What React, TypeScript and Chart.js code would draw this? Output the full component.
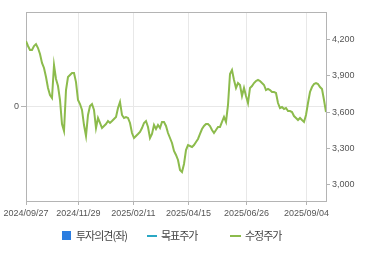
import React, { useEffect, useRef } from "react";
import { Chart, registerables } from "chart.js";

Chart.register(...registerables);

// x-axis tick labels and their positions (in data index units)
const dateLabels = ["2024/09/27", "2024/11/29", "2025/02/11", "2025/04/15", "2025/06/26", "2025/09/04"];
const dateTickIndex = [0, 26.2, 53.7, 81.2, 110.3, 140.3];

// 수정주가 (adjusted close)
const adjustedPrice = [
  4186, 4145, 4112, 4112, 4145, 4161, 4128, 4079, 4005, 3964,
  3889, 3799, 3741, 3716, 3988, 3873, 3815, 3700, 3502, 3445,
  3782, 3889, 3906, 3922, 3922, 3848, 3700, 3667, 3618, 3494,
  3404, 3577, 3651, 3667, 3618, 3469, 3552, 3511, 3469, 3486,
  3502, 3527, 3511, 3527, 3544, 3560, 3634, 3684, 3577, 3552,
  3560, 3552, 3511, 3428, 3387, 3404, 3420, 3437, 3469, 3511,
  3527, 3478, 3387, 3420, 3494, 3461, 3494, 3469, 3519, 3519,
  3486, 3428, 3387, 3346, 3280, 3247, 3206, 3124, 3107, 3173,
  3288, 3329, 3321, 3313, 3329, 3354, 3379, 3420, 3461, 3486,
  3502, 3502, 3486, 3453, 3428, 3453, 3478, 3478, 3519, 3560,
  3519, 3659, 3914, 3947, 3865, 3799, 3840, 3824, 3733, 3799,
  3733, 3675, 3799, 3815, 3840, 3857, 3865, 3857, 3840, 3824,
  3782, 3791, 3782, 3766, 3766, 3758, 3675, 3634, 3642, 3626,
  3634, 3609, 3609, 3601, 3568, 3552, 3535, 3552, 3535, 3519,
  3577, 3675, 3766, 3807, 3832, 3840, 3832, 3807, 3791, 3700,
  3601,
];

// 투자의견(좌) and 목표주가 have no visible marks in the picture
const opinion: number[] = [];
const targetPrice: number[] = [];

const priceTicks = [3000, 3300, 3600, 3900, 4200];
const priceMin = 2868;
const priceMax = 4425;
const opinionTicks = [0];

const GREEN = "#8cbb4c";
const CYAN = "#2aa8c4";
const BLUE = "#2b7de0";
const AXIS_FONT = { family: "'Liberation Sans', Arial, sans-serif", size: 9 };
const TEXT = "#555";

const fmt = (v: number) => String(v).replace(/\B(?=(\d{3})+(?!\d))/g, ",");

const frame = {
  id: "frame",
  beforeDatasetsDraw(chart: any) {
    const { ctx, chartArea: a } = chart;
    ctx.save();
    ctx.strokeStyle = "#b4b4b4";
    ctx.lineWidth = 1;
    ctx.strokeRect(Math.round(a.left) + 0.5, Math.round(a.top) + 0.5, Math.round(a.right - a.left), Math.round(a.bottom - a.top));
    ctx.restore();
  },
};

export default function App() {
  const ref = useRef<HTMLCanvasElement>(null);

  useEffect(() => {
    if (!ref.current) return;
    const chart = new Chart(ref.current, {
      type: "line",
      data: {
        datasets: [
          {
            type: "bar",
            label: "투자의견(좌)",
            data: opinion.map((v, i) => ({ x: i, y: v })),
            backgroundColor: BLUE,
            yAxisID: "yL",
          } as any,
          {
            label: "목표주가",
            data: targetPrice.map((v, i) => ({ x: i, y: v })),
            borderColor: CYAN,
            borderWidth: 2,
            pointRadius: 0,
            yAxisID: "yR",
          },
          {
            label: "수정주가",
            data: adjustedPrice.map((v, i) => ({ x: i, y: v })),
            borderColor: GREEN,
            borderWidth: 2,
            pointRadius: 0,
            tension: 0,
            yAxisID: "yR",
          },
        ],
      },
      options: {
        animation: false,
        responsive: false,
        layout: { padding: { top: 12, left: 0, right: 0, bottom: 0 } },
        plugins: { legend: { display: false }, tooltip: { enabled: false } },
        scales: {
          x: {
            type: "linear",
            offset: false,
            min: 0,
            max: adjustedPrice.length - 1,
            afterBuildTicks: (s: any) => {
              s.ticks = dateTickIndex.map((v) => ({ value: v }));
            },
            afterFit: (s: any) => {
              s.height = 54;
            },
            ticks: {
              callback: (_v: any, i: number) => dateLabels[i],
              autoSkip: false,
              maxRotation: 0,
              font: AXIS_FONT,
              color: TEXT,
              padding: 3,
            },
            grid: { offset: false, color: "#e8e8e8", tickColor: "#b4b4b4", tickLength: 4 },
            border: { display: false },
          },
          yL: {
            type: "linear",
            position: "left",
            min: -1,
            max: 1,
            afterBuildTicks: (s: any) => {
              s.ticks = opinionTicks.map((v) => ({ value: v }));
            },
            afterFit: (s: any) => {
              s.width = 26;
            },
            ticks: { callback: (v: any) => String(v), font: AXIS_FONT, color: TEXT, padding: 2 },
            grid: { color: "#e8e8e8", tickColor: "#b4b4b4", tickLength: 5 },
            border: { display: false },
          },
          yR: {
            type: "linear",
            position: "right",
            min: priceMin,
            max: priceMax,
            afterBuildTicks: (s: any) => {
              s.ticks = priceTicks.map((v) => ({ value: v }));
            },
            afterFit: (s: any) => {
              s.width = 44;
            },
            ticks: { callback: (v: any) => fmt(v), font: AXIS_FONT, color: TEXT, padding: 2 },
            grid: { drawOnChartArea: false, tickColor: "#b4b4b4", tickLength: 4 },
            border: { display: false },
          },
        },
      },
      plugins: [frame],
    });
    return () => chart.destroy();
  }, []);

  const legendText: React.CSSProperties = {
    position: "absolute",
    top: 228,
    fontFamily: "'Noto Sans CJK KR', sans-serif",
    fontSize: 11,
    letterSpacing: -1,
    color: "#444",
    lineHeight: "15px",
    whiteSpace: "nowrap",
  };

  return (
    <div style={{ position: "fixed", left: 0, top: 0, width: 370, height: 255, background: "#fff" }}>
      <canvas ref={ref} width={370} height={255} style={{ display: "block" }} />
      <div style={{ position: "absolute", left: 62, top: 231, width: 9, height: 9, background: BLUE }} />
      <div style={{ ...legendText, left: 76 }}>투자의견(좌)</div>
      <div style={{ position: "absolute", left: 147, top: 235, width: 10, height: 2, background: CYAN }} />
      <div style={{ ...legendText, left: 161 }}>목표주가</div>
      <div style={{ position: "absolute", left: 230, top: 235, width: 11, height: 2, background: GREEN }} />
      <div style={{ ...legendText, left: 245 }}>수정주가</div>
    </div>
  );
}
